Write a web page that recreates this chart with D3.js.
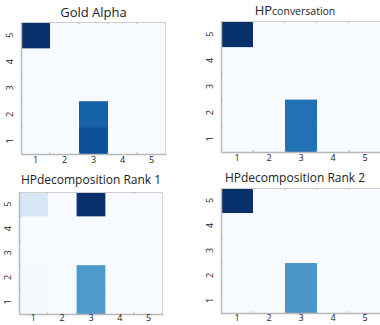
<!DOCTYPE html>
<html>
<head>
<meta charset="utf-8">
<script src="https://cdn.jsdelivr.net/npm/d3@7"></script>
<style>
  body { margin: 0; background: #fff; }
  text { font-family: "Open Sans", "DejaVu Sans", sans-serif; }
</style>
</head>
<body>
<script>
const w = 380;
const h = 325;

// categories on both axes
const xCats = [1, 2, 3, 4, 5];
const yCats = [1, 2, 3, 4, 5];

// intensity matrices, one row per y value (top row = 5), columns x = 1..5
const goldAlpha = [
  [1, 0, 0, 0, 0],
  [0, 0, 0, 0, 0],
  [0, 0, 0, 0, 0],
  [0, 0, 0.81, 0, 0],
  [0, 0, 0.87, 0, 0]
];
const hpConversation = [
  [1, 0, 0, 0, 0],
  [0, 0, 0, 0, 0],
  [0, 0, 0, 0, 0],
  [0, 0, 0.75, 0, 0],
  [0, 0, 0.75, 0, 0]
];
const hpRank1 = [
  [0.16, 0, 1, 0, 0],
  [0, 0, 0, 0, 0],
  [0, 0, 0, 0, 0],
  [0.015, 0, 0.59, 0, 0],
  [0.015, 0, 0.59, 0, 0]
];
const hpRank2 = [
  [1, 0, 0, 0, 0],
  [0, 0, 0, 0, 0],
  [0, 0, 0, 0, 0],
  [0, 0, 0.6, 0, 0],
  [0, 0, 0.6, 0, 0]
];

const rowOrder = [5, 4, 3, 2, 1];

const svg = d3.select("body")
  .append("svg")
  .attr("width", w)
  .attr("height", h);

const color = d3.scaleSequential(d3.interpolateBlues).domain([0, 1]);

// panel frames
const panels = [
  { title: ["Gold Alpha"], data: goldAlpha, x0: 21, x1: 166, y0: 22, y1: 154, ty: 17, fs: 13, pad: 3 },
  { title: ["HP", "conversation"], data: hpConversation, x0: 221, x1: 381, y0: 21, y1: 152, ty: 15, fs: 13, pad: 3 },
  { title: ["HPdecomposition  Rank 1"], data: hpRank1, x0: 19, x1: 163, y0: 192, y1: 314, ty: 184, fs: 12, pad: 1 },
  { title: ["HPdecomposition Rank 2"], data: hpRank2, x0: 221, x1: 381, y0: 188, y1: 313, ty: 182, fs: 12, pad: 2 }
];

panels.forEach(p => {
  const xScale = d3.scaleBand().domain(xCats).range([p.x0, p.x1]);
  const yScale = d3.scaleBand().domain(yCats).range([p.y1, p.y0]);

  const cells = [];
  p.data.forEach((row, ri) => {
    row.forEach((v, ci) => cells.push({ x: xCats[ci], y: rowOrder[ri], v: v }));
  });

  const g = svg.append("g");

  g.selectAll("rect.cell")
    .data(cells)
    .enter()
    .append("rect")
    .attr("class", "cell")
    .attr("x", d => xScale(d.x))
    .attr("y", d => yScale(d.y))
    .attr("width", xScale.bandwidth() + 0.5)
    .attr("height", yScale.bandwidth() + 0.5)
    .attr("fill", d => color(d.v));

  // light frame top / right
  g.append("line")
    .attr("x1", p.x0).attr("x2", p.x1)
    .attr("y1", p.y0 + 0.5).attr("y2", p.y0 + 0.5)
    .attr("stroke", "#cfcfcf");
  g.append("line")
    .attr("x1", p.x1 - 0.5).attr("x2", p.x1 - 0.5)
    .attr("y1", p.y0).attr("y2", p.y1)
    .attr("stroke", "#d4d4d4");

  // boundary tick marks, inward
  const xBounds = xCats.slice(1).map(c => xScale(c));
  const yBounds = yCats.slice(1).map(c => yScale(c) + yScale.bandwidth());
  g.selectAll("line.tt")
    .data(xBounds)
    .enter()
    .append("line")
    .attr("x1", d => d).attr("x2", d => d)
    .attr("y1", p.y0).attr("y2", p.y0 + 2)
    .attr("stroke", "#bbb");
  g.selectAll("line.bt")
    .data(xBounds)
    .enter()
    .append("line")
    .attr("x1", d => d).attr("x2", d => d)
    .attr("y1", p.y1).attr("y2", p.y1 - 2)
    .attr("stroke", "#bbb");
  g.selectAll("line.lt")
    .data(yBounds)
    .enter()
    .append("line")
    .attr("x1", p.x0).attr("x2", p.x0 + 2)
    .attr("y1", d => d).attr("y2", d => d)
    .attr("stroke", "#bbb");

  // x axis
  const xAxis = g.append("g")
    .attr("transform", "translate(0," + p.y1 + ")")
    .call(d3.axisBottom(xScale).tickSize(0).tickPadding(p.pad));
  xAxis.select(".domain").attr("stroke", "#b8b8b8").attr("stroke-width", 1.5);
  xAxis.selectAll("text").attr("fill", "#222").style("font-size", "9px");

  // y axis
  const yAxis = g.append("g")
    .attr("transform", "translate(" + p.x0 + ",0)")
    .call(d3.axisLeft(yScale).tickSize(0).tickPadding(5));
  yAxis.select(".domain").attr("stroke", "#b8b8b8").attr("stroke-width", 1.5);
  yAxis.selectAll("text")
    .attr("fill", "#222")
    .style("font-size", "9px")
    .attr("text-anchor", "middle")
    .attr("x", 0)
    .attr("dy", 0)
    .attr("transform", "translate(-8,0) rotate(-90)");

  // title
  const t = svg.append("text")
    .attr("x", (p.x0 + p.x1) / 2 + (p.x1 > 370 ? -6 : 0))
    .attr("y", p.ty)
    .attr("text-anchor", "middle")
    .attr("fill", "#222")
    .style("font-size", p.fs + "px");
  t.append("tspan").text(p.title[0]);
  if (p.title.length > 1) {
    t.append("tspan").style("font-size", "10.5px").text(p.title[1]);
  }
});
</script>
</body>
</html>
